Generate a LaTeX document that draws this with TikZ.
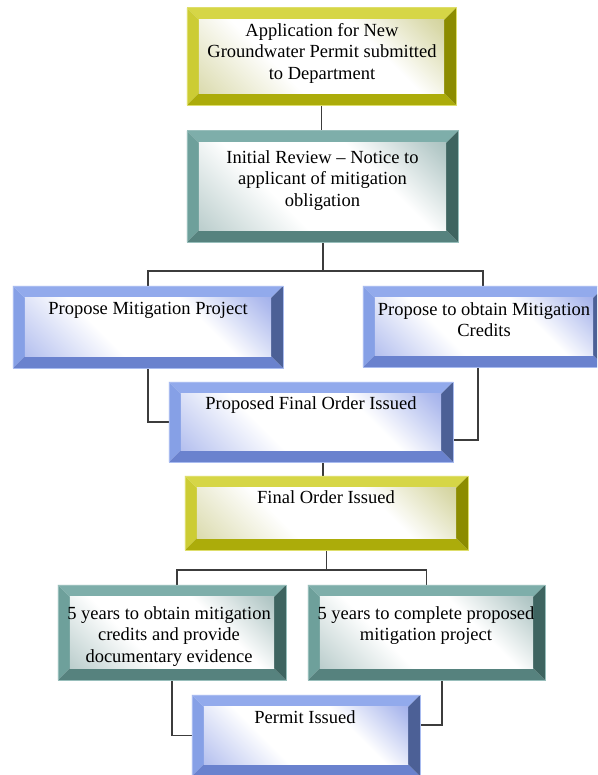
\documentclass[tikz,border=0pt]{standalone}
\usepackage{fontspec}
\setmainfont{Liberation Serif}
\usetikzlibrary{calc}
\definecolor{yT}{RGB}{214,214,70}
\definecolor{yL}{RGB}{204,204,52}
\definecolor{yB}{RGB}{172,172,10}
\definecolor{yR}{RGB}{140,140,0}
\definecolor{yI}{RGB}{186,186,100}
\definecolor{tT}{RGB}{126,174,170}
\definecolor{tL}{RGB}{110,160,155}
\definecolor{tB}{RGB}{86,130,126}
\definecolor{tR}{RGB}{62,100,96}
\definecolor{tI}{RGB}{124,160,158}
\definecolor{bT}{RGB}{146,170,236}
\definecolor{bL}{RGB}{134,160,230}
\definecolor{bB}{RGB}{106,130,206}
\definecolor{bR}{RGB}{76,96,150}
\definecolor{bI}{RGB}{112,134,224}
\definecolor{lineC}{RGB}{60,60,60}
\colorlet{shc}{bI}
\pgfdeclareverticalshading[shc]{diagshade}{100bp}{%
  color(0bp)=(shc!85!white); color(25bp)=(shc!85!white); color(35bp)=(shc!40!white);
  color(44bp)=(white); color(57bp)=(white); color(66bp)=(shc!55!white);
  color(75bp)=(shc); color(100bp)=(shc)}
\tikzset{
  bx/.style={rectangle, draw=none, inner sep=0pt},
  txt/.style={align=center, inner sep=0pt, anchor=north, font=\fontsize{18.5}{21.5}\selectfont},
  conn/.style={draw=lineC, line width=1.3pt}
}
\newcommand\bevelbox[6]{%
  \fill[#2] (#1.north west) -- (#1.north east) -- ([xshift=-12pt,yshift=-12pt]#1.north east) -- ([xshift=12pt,yshift=-12pt]#1.north west) -- cycle;
  \fill[#3] (#1.north west) -- ([xshift=12pt,yshift=-12pt]#1.north west) -- ([xshift=12pt,yshift=12pt]#1.south west) -- (#1.south west) -- cycle;
  \fill[#4] (#1.south west) -- ([xshift=12pt,yshift=12pt]#1.south west) -- ([xshift=-12pt,yshift=12pt]#1.south east) -- (#1.south east) -- cycle;
  \fill[#5] (#1.north east) -- (#1.south east) -- ([xshift=-12pt,yshift=12pt]#1.south east) -- ([xshift=-12pt,yshift=-12pt]#1.north east) -- cycle;
  \colorlet{shc}{#6}%
  \begin{scope}
    \clip ([xshift=12pt,yshift=-12pt]#1.north west) rectangle ([xshift=-12pt,yshift=12pt]#1.south east);
    \shade[shading=diagshade, shading angle=-45] let \p1=(#1.north west), \p2=(#1.south east),
      \n1={(\x2-\x1+\y1-\y2-48pt)/2} in
      ([xshift=-\n1,yshift=-\n1]#1.center) rectangle ([xshift=\n1,yshift=\n1]#1.center);
  \end{scope}
  \draw[#2!80!white, line width=0.6pt] (#1.north west) rectangle (#1.south east);
}
\begin{document}
\begin{tikzpicture}[x=1pt,y=-1pt]
\useasboundingbox (0,0) rectangle (597,775);
\clip (0,0) rectangle (597,775);
% box nodes
\node[bx, minimum width=269pt, minimum height=97pt] (n1) at (321.5,56.5) {};
\node[bx, minimum width=271pt, minimum height=111pt] (n2) at (322.5,186.5) {};
\node[bx, minimum width=270pt, minimum height=82pt] (n3) at (148,327) {};
\node[bx, minimum width=242pt, minimum height=81pt] (n4) at (484,326.5) {};
\node[bx, minimum width=284pt, minimum height=80pt] (n5) at (311,422) {};
\node[bx, minimum width=283pt, minimum height=74pt] (n6) at (326.5,513) {};
\node[bx, minimum width=228pt, minimum height=95pt] (n7) at (172,632.5) {};
\node[bx, minimum width=237pt, minimum height=95pt] (n8) at (426.5,632.5) {};
\node[bx, minimum width=228pt, minimum height=81pt] (n9) at (306,735.5) {};
% connectors
\coordinate (j1) at (323,271);
\coordinate (j2) at (327,570);
\draw[conn] (n1.south) -- (n1.south |- n2.north);
\draw[conn] (n2.south -| j1) -- (j1);
\draw[conn] (n3.north) |- (j1) -| ([xshift=-1pt]n4.north);
\draw[conn] (n3.south) |- (n5.west);
\draw[conn] ([xshift=-6pt]n4.south) |- ([yshift=-18pt]n5.east);
\draw[conn] ([xshift=12pt]n5.south) -- ([xshift=12pt]n5.south |- n6.north);
\draw[conn] (n6.south) -- (n6.south |- j2);
\draw[conn] ([xshift=5pt]n7.north) |- (j2) -| (n8.north);
\draw[conn] (n7.south) |- (n9.west);
\draw[conn] ([xshift=15.5pt]n8.south) |- ([yshift=10.5pt]n9.east);
% boxes
\bevelbox{n1}{yT}{yL}{yB}{yR}{yI}
\bevelbox{n2}{tT}{tL}{tB}{tR}{tI}
\bevelbox{n3}{bT}{bL}{bB}{bR}{bI}
\bevelbox{n4}{bT}{bL}{bB}{bR}{bI}
\bevelbox{n5}{bT}{bL}{bB}{bR}{bI}
\bevelbox{n6}{yT}{yL}{yB}{yR}{yI}
\bevelbox{n7}{tT}{tL}{tB}{tR}{tI}
\bevelbox{n8}{tT}{tL}{tB}{tR}{tI}
\bevelbox{n9}{bT}{bL}{bB}{bR}{bI}
% texts
\node[txt] (t1) at (322,23) {Application for New\\Groundwater Permit submitted\\to Department};
\node[txt] (t2) at (322.5,150) {Initial Review – Notice to\\applicant of mitigation\\obligation};
\node[txt] (t3) at (148,302) {Propose Mitigation Project};
\node[txt] (t4) at (484,302) {Propose to obtain Mitigation\\Credits};
\node[txt] (t5) at (311,396) {Proposed Final Order Issued};
\node[txt] (t6) at (326,490) {Final Order Issued};
\node[txt] (t7) at (169,606) {5 years to obtain mitigation\\credits and provide\\documentary evidence};
\node[txt] (t8) at (426,606) {5 years to complete proposed\\mitigation project};
\node[txt] (t9) at (305,710) {Permit Issued};
\end{tikzpicture}
\end{document}
